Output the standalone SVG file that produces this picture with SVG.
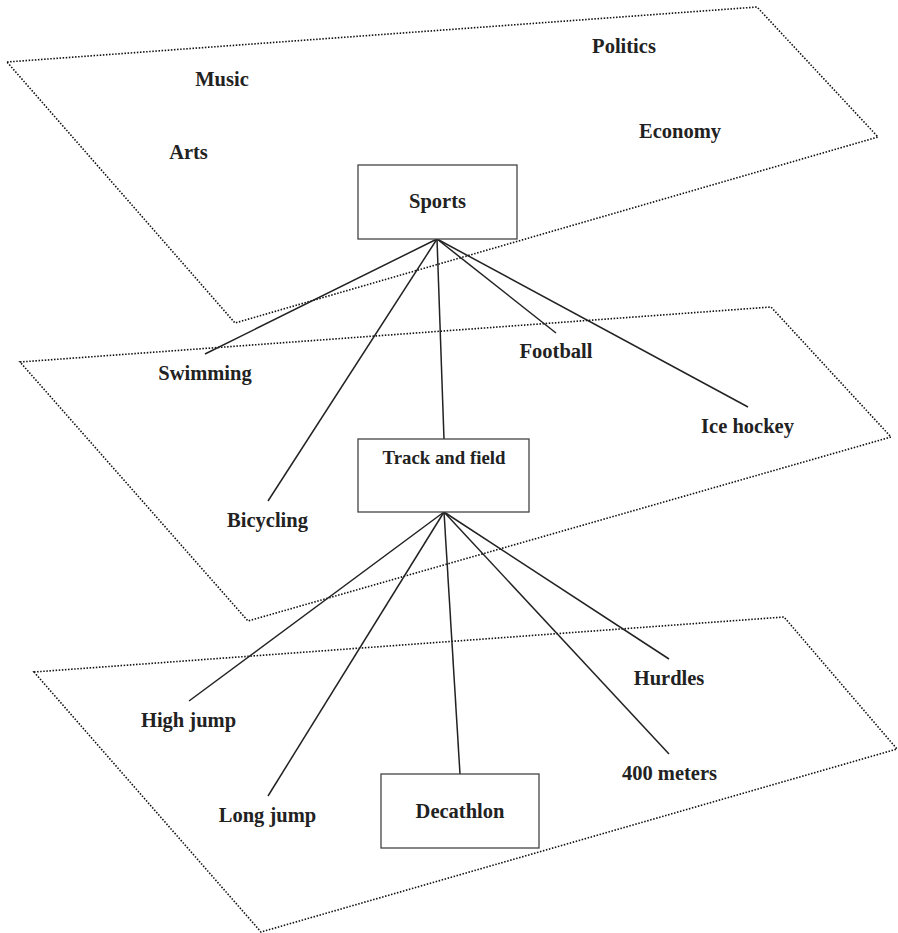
<svg xmlns="http://www.w3.org/2000/svg" width="898" height="933" viewBox="0 0 898 933">
  <style>
    .plane { fill: none; stroke: #111; stroke-width: 1.6; stroke-dasharray: 1.5 1.6; }
    .link { stroke: #222; stroke-width: 1.5; fill: none; }
    .box { fill: #fff; stroke: #444; stroke-width: 1.3; }
    .lbl { font-family: "Liberation Serif", "Times New Roman", serif; font-weight: bold; font-size: 20.5px; fill: #222; text-anchor: middle; }
    .small { font-size: 18.8px; }
  </style>
  <rect width="898" height="933" fill="#fff"/>

  <!-- dotted layer planes -->
  <g id="planes">
    <polygon class="plane" points="7,62 757,7 878,137 235,323"/>
    <polygon class="plane" points="20,362 771,307 891,437 248,621"/>
    <polygon class="plane" points="34,672 784,617 897,749 261,932"/>
  </g>

  <!-- connectors -->
  <g id="connectors">
    <line class="link" x1="437" y1="239" x2="205" y2="354"/>
    <line class="link" x1="437" y1="239" x2="268" y2="501"/>
    <line class="link" x1="437" y1="239" x2="444" y2="439"/>
    <line class="link" x1="437" y1="239" x2="556" y2="333"/>
    <line class="link" x1="437" y1="239" x2="748" y2="407"/>
    <line class="link" x1="444" y1="512" x2="189" y2="701"/>
    <line class="link" x1="444" y1="512" x2="268" y2="796"/>
    <line class="link" x1="444" y1="512" x2="460" y2="774"/>
    <line class="link" x1="444" y1="512" x2="669" y2="754"/>
    <line class="link" x1="444" y1="512" x2="669" y2="659"/>
  </g>

  <!-- top layer -->
  <g id="music"><text class="lbl" x="222" y="86">Music</text></g>
  <g id="arts"><text class="lbl" x="188.5" y="159">Arts</text></g>
  <g id="politics"><text class="lbl" x="624" y="53">Politics</text></g>
  <g id="economy"><text class="lbl" x="680" y="138">Economy</text></g>
  <g id="sports">
    <rect class="box" x="358" y="165" width="159" height="74"/>
    <text class="lbl" x="437.5" y="208">Sports</text>
  </g>

  <!-- middle layer -->
  <g id="swimming"><text class="lbl" x="205" y="380">Swimming</text></g>
  <g id="bicycling"><text class="lbl" x="267.5" y="527">Bicycling</text></g>
  <g id="football"><text class="lbl" x="556" y="358">Football</text></g>
  <g id="ice-hockey"><text class="lbl" x="747.5" y="433">Ice hockey</text></g>
  <g id="track-and-field">
    <rect class="box" x="358" y="439" width="171" height="73"/>
    <text class="lbl small" x="444" y="464">Track and field</text>
  </g>

  <!-- bottom layer -->
  <g id="high-jump"><text class="lbl" x="188.5" y="727">High jump</text></g>
  <g id="long-jump"><text class="lbl" x="267.5" y="822">Long jump</text></g>
  <g id="hurdles"><text class="lbl" x="669" y="685">Hurdles</text></g>
  <g id="400-meters"><text class="lbl" x="669.5" y="780">400 meters</text></g>
  <g id="decathlon">
    <rect class="box" x="381" y="774" width="158" height="74"/>
    <text class="lbl" x="460" y="818">Decathlon</text>
  </g>
</svg>
